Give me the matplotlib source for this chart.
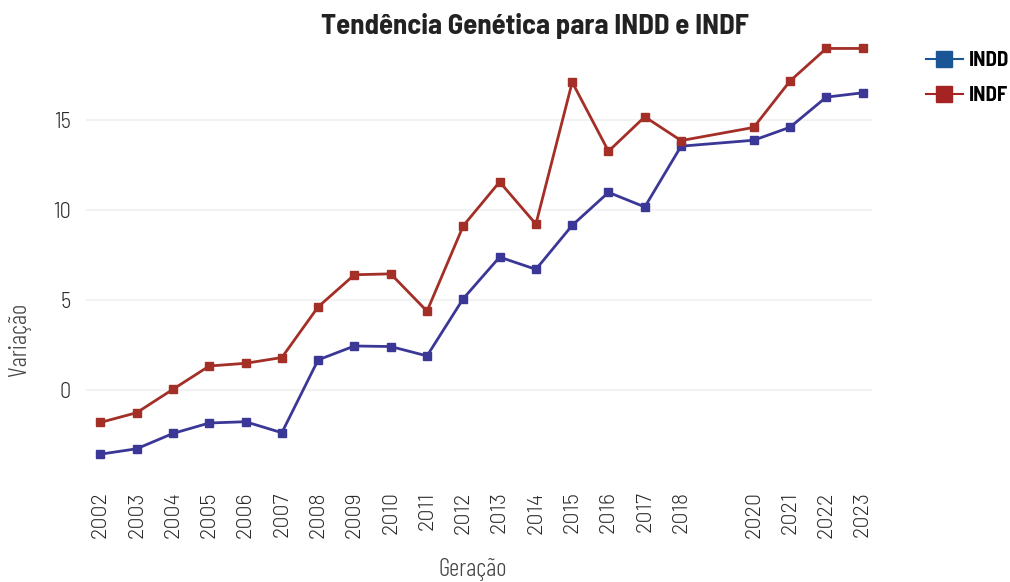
import matplotlib
matplotlib.use("Agg")
import matplotlib.pyplot as plt
from matplotlib.lines import Line2D

years = [2002, 2003, 2004, 2005, 2006, 2007, 2008, 2009, 2010, 2011, 2012,
         2013, 2014, 2015, 2016, 2017, 2018, 2020, 2021, 2022, 2023]
indd = [-3.56, -3.26, -2.41, -1.83, -1.76, -2.37, 1.67, 2.44, 2.41, 1.89, 5.07,
        7.37, 6.69, 9.13, 10.96, 10.15, 13.52, 13.85, 14.57, 16.24, 16.48]
indf = [-1.80, -1.26, 0.04, 1.33, 1.48, 1.80, 4.61, 6.39, 6.44, 4.37, 9.11,
        11.54, 9.20, 17.07, 13.24, 15.15, 13.83, 14.56, 17.13, 18.94, 18.94]
yticks = [0, 5, 10, 15]

TICKFONT = ["Barlow", "DejaVu Sans"]
YTICKFONT = ["Barlow Semi Condensed", "DejaVu Sans"]
LABFONT = ["Barlow Condensed", "DejaVu Sans"]
TITFONT = ["Barlow Semi Condensed", "DejaVu Sans"]

fig = plt.figure(figsize=(10.1, 5.82), dpi=100)
ax = fig.add_axes([0.085, 0.175, 0.778, 0.756])

c_indd = "#3b3796"
c_indf = "#a32f27"
ax.plot(years, indd, color=c_indd, lw=2, marker="s", ms=5.5, zorder=3)
ax.plot(years, indf, color=c_indf, lw=2, marker="s", ms=5.5, zorder=3)

ax.set_xlim(2001.6, 2023.25)
ax.set_ylim(-5, 19.4)
ax.set_xticks(years)
ax.set_xticklabels([str(y) for y in years], rotation=90, fontsize=15.5,
                   family=TICKFONT, fontweight=300, color="#2a2a2a")
ax.set_yticks(yticks)
ax.set_yticklabels([str(v) for v in yticks], fontsize=16,
                   family=YTICKFONT, fontweight=300, color="#2a2a2a")
ax.tick_params(axis="x", length=0, pad=8)
ax.tick_params(axis="y", length=0, pad=11)
ax.grid(axis="y", color="#f2f2f2", lw=1.5)
ax.set_axisbelow(True)
for s in ax.spines.values():
    s.set_visible(False)

fig.text(0.53, 0.956, "Tendência Genética para INDD e INDF", ha="center", va="center",
         fontsize=20.7, fontweight="bold", family=TITFONT, color="#222222")
fig.text(0.019, 0.4175, "Variação", rotation=90, ha="center", va="center", fontsize=18,
         family=LABFONT, fontweight=300, color="#444444")
fig.text(0.468, 0.0015, "Geração", ha="center", va="bottom", fontsize=18,
         family=LABFONT, fontweight=300, color="#444444")

handles = [Line2D([], [], color="#1a5696", lw=1.5, marker="s", ms=12),
           Line2D([], [], color="#a52323", lw=1.5, marker="s", ms=12)]
leg = fig.legend(handles, ["INDD", "INDF"], loc="upper left", bbox_to_anchor=(0.917, 0.912),
                 frameon=False, handlelength=1.75, handletextpad=0.3, labelspacing=0.75,
                 borderpad=0, borderaxespad=0,
                 prop={"family": TITFONT, "weight": "bold", "size": 15})

fig.savefig("out.png", dpi=100, facecolor="white")
